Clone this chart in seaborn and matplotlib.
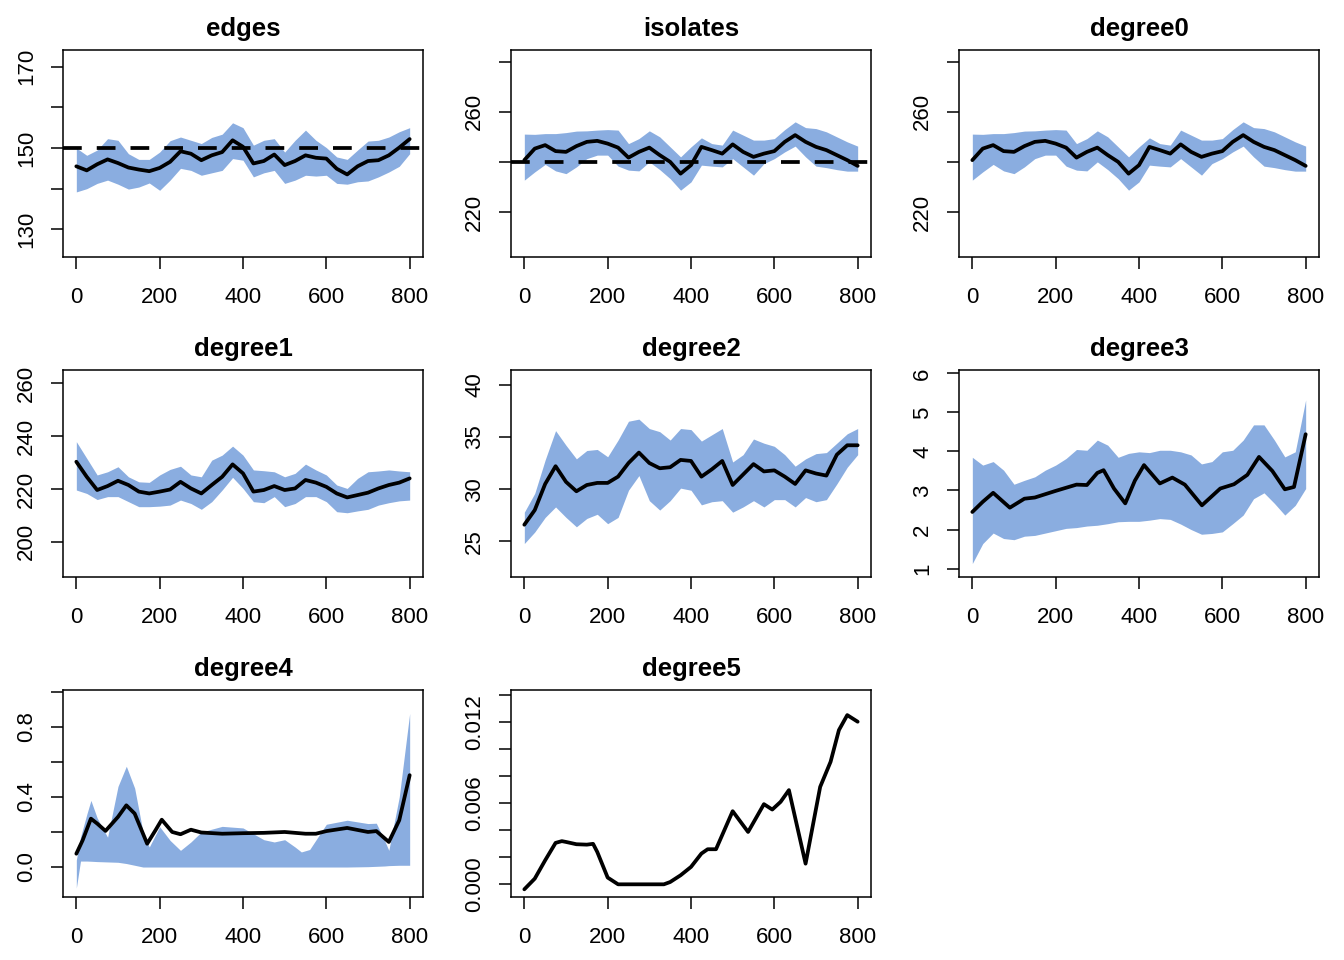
import matplotlib
matplotlib.use("Agg")
import matplotlib.pyplot as plt
import seaborn as sns

# common time grid for most panels
steps = [0, 25, 50, 75, 100, 125, 150, 175, 200, 225, 250, 275, 300, 325, 350, 375, 400,
         425, 450, 475, 500, 525, 550, 575, 600, 625, 650, 675, 700, 725, 750, 775, 800]

# edges
edges_mean = [145.5, 144.5, 146.0, 147.2, 146.3, 145.2, 144.7, 144.3, 145.1, 146.6, 149.2, 148.6, 147.0,
              148.2, 149.0, 151.9, 150.3, 146.2, 146.8, 148.4, 145.8, 146.8, 148.2, 147.6, 147.4, 144.9,
              143.5, 145.5, 146.8, 147.0, 148.2, 150.1, 152.2]
edges_hi = [150.0, 148.2, 149.5, 152.3, 151.9, 148.6, 147.2, 147.2, 149.0, 151.8, 152.7, 151.9, 151.1,
            152.6, 153.4, 156.2, 155.0, 150.7, 151.9, 152.3, 149.0, 151.9, 154.4, 151.9, 150.1, 147.8,
            147.2, 149.5, 151.7, 151.9, 152.7, 154.0, 155.0]
edges_lo = [139.2, 140.0, 141.3, 142.1, 141.1, 139.9, 140.4, 141.4, 139.6, 142.1, 145.0, 144.5, 143.3,
            143.9, 144.5, 147.4, 147.0, 142.9, 143.9, 144.5, 141.3, 142.1, 143.3, 143.1, 143.3, 141.3,
            141.1, 141.7, 141.9, 142.9, 144.1, 145.5, 148.6]
edges_target = 150

# isolates (degree0 shows the same series)
isolates_mean = [240.7, 245.3, 246.7, 244.3, 244.0, 246.3, 248.0, 248.4, 247.3, 245.7, 241.7, 244.0, 245.7,
                 242.7, 240.0, 235.3, 238.7, 246.0, 244.7, 243.3, 247.0, 244.0, 242.0, 243.3, 244.3, 248.0,
                 250.7, 248.0, 246.0, 244.7, 242.7, 240.7, 238.4]
isolates_hi = [251.1, 251.0, 251.3, 251.3, 251.7, 252.3, 252.4, 252.7, 252.9, 252.7, 247.3, 249.3, 252.4,
               250.0, 246.0, 242.0, 246.0, 249.6, 247.3, 246.7, 252.7, 250.7, 248.7, 248.7, 249.3, 252.9,
               256.0, 253.7, 253.3, 252.0, 250.0, 248.0, 246.3]
isolates_lo = [232.7, 236.0, 239.0, 236.4, 235.3, 238.0, 241.3, 242.7, 242.7, 238.3, 236.7, 236.4, 240.0,
               236.9, 233.3, 228.7, 232.0, 238.7, 238.3, 238.0, 241.3, 238.0, 234.7, 239.3, 241.3, 244.0,
               246.3, 242.0, 238.3, 237.7, 236.9, 236.3, 236.3]
isolates_target = 240

# degree1
degree1_mean = [230.3, 224.6, 219.6, 221.1, 223.1, 221.5, 219.0, 218.3, 219.0, 219.8, 222.7, 220.2, 218.3,
                221.5, 224.6, 229.3, 225.9, 219.0, 219.6, 221.1, 219.6, 220.2, 223.4, 222.4, 220.8, 218.3,
                216.8, 217.7, 218.6, 220.2, 221.5, 222.4, 224.0]
degree1_hi = [237.9, 231.6, 225.3, 226.5, 228.4, 224.6, 222.7, 222.5, 225.3, 227.4, 228.6, 225.3, 224.6,
              230.9, 232.8, 236.2, 232.8, 227.2, 226.9, 226.5, 224.6, 225.9, 229.4, 227.2, 225.3, 221.5,
              220.2, 224.0, 226.5, 226.8, 227.2, 226.8, 226.5]
degree1_lo = [219.6, 218.3, 216.0, 217.1, 217.1, 215.2, 213.3, 213.3, 213.5, 213.9, 215.8, 214.5, 212.3,
              215.2, 219.6, 224.4, 220.2, 215.2, 214.8, 217.1, 213.3, 214.5, 217.1, 217.1, 215.2, 211.4,
              211.0, 211.7, 212.3, 213.9, 214.8, 215.5, 215.8]

# degree2
degree2_mean = [26.6, 28.0, 30.5, 32.2, 30.7, 29.8, 30.4, 30.6, 30.6, 31.2, 32.5, 33.5, 32.5, 32.0, 32.1,
                32.8, 32.7, 31.2, 31.9, 32.7, 30.4, 31.4, 32.4, 31.7, 31.8, 31.2, 30.5, 31.8, 31.5, 31.3,
                33.3, 34.2, 34.2]
degree2_hi = [27.8, 29.6, 32.8, 35.6, 34.2, 32.9, 33.7, 33.8, 33.1, 34.7, 36.5, 36.7, 35.8, 35.5, 34.7,
              35.8, 35.7, 34.6, 35.2, 35.8, 32.6, 33.3, 34.8, 34.4, 34.1, 33.3, 32.2, 32.9, 33.4, 33.5,
              34.4, 35.3, 35.8]
degree2_lo = [24.8, 25.9, 27.3, 28.3, 27.3, 26.4, 27.2, 27.6, 26.7, 27.3, 29.9, 31.3, 28.9, 28.0, 28.9,
              30.1, 29.9, 28.5, 28.8, 28.9, 27.8, 28.3, 28.9, 28.3, 29.0, 29.0, 28.3, 29.2, 28.8, 29.0,
              30.5, 32.1, 33.3]

# degree3
degree3_x = [0, 25, 50, 90, 125, 150, 200, 250, 275, 300, 315, 340, 367, 390, 412, 450, 480, 510, 551,
             595, 628, 660, 688, 720, 750, 772, 800]
degree3_mean = [2.45, 2.71, 2.94, 2.56, 2.79, 2.82, 2.99, 3.15, 3.14, 3.45, 3.52, 3.05, 2.67, 3.25, 3.65,
                3.18, 3.33, 3.15, 2.62, 3.05, 3.16, 3.40, 3.86, 3.50, 3.03, 3.09, 4.44]
degree3_hi = [3.85, 3.65, 3.74, 3.52, 3.16, 3.26, 3.35, 3.52, 3.65, 3.82, 4.05, 4.03, 4.29, 4.16, 3.85,
              3.95, 3.99, 3.97, 4.03, 4.03, 3.99, 3.91, 3.68, 3.74, 3.99, 4.03, 4.29, 4.68, 4.68, 4.29,
              3.86, 3.99, 5.32]
degree3_lo = [1.13, 1.64, 1.91, 1.77, 1.74, 1.83, 1.85, 1.91, 1.97, 2.03, 2.05, 2.09, 2.11, 2.15, 2.20,
              2.21, 2.21, 2.24, 2.28, 2.26, 2.14, 2.00, 1.88, 1.90, 1.94, 2.15, 2.37, 2.79, 2.94, 2.67,
              2.37, 2.62, 3.05]

# degree4
degree4_x = [0, 15, 35, 50, 70, 100, 120, 140, 170, 190, 205, 230, 250, 275, 300, 350, 400, 450, 500,
             550, 575, 600, 650, 700, 720, 750, 775, 800]
degree4_mean = [0.076, 0.152, 0.276, 0.248, 0.206, 0.286, 0.352, 0.305, 0.133, 0.21, 0.27, 0.20, 0.187,
                0.213, 0.197, 0.19, 0.193, 0.195, 0.20, 0.19, 0.19, 0.205, 0.223, 0.20, 0.205, 0.143,
                0.267, 0.524]
degree4_bx = [0, 10, 25, 35, 50, 75, 100, 120, 140, 160, 175, 200, 225, 250, 275, 300, 350, 400, 450,
              475, 500, 525, 540, 560, 600, 650, 700, 720, 740, 750, 775, 800]
degree4_hi = [0.04, 0.17, 0.30, 0.38, 0.28, 0.17, 0.46, 0.575, 0.45, 0.20, 0.114, 0.23, 0.152, 0.095,
              0.143, 0.20, 0.232, 0.223, 0.156, 0.143, 0.156, 0.114, 0.086, 0.10, 0.244, 0.267, 0.248,
              0.25, 0.15, 0.095, 0.40, 0.876]
degree4_lo = [-0.12, 0.034, 0.034, 0.033, 0.031, 0.029, 0.027, 0.02, 0.01, 0.0, 0.0, 0.0, 0.0, 0.0, 0.0,
              0.0, 0.0, 0.0, 0.0, 0.0, 0.0, 0.0, 0.0, 0.0, 0.0, 0.0, 0.002, 0.004, 0.006, 0.008, 0.01,
              0.01]

# degree5 (no visible band)
degree5_x = [0, 25, 50, 75, 90, 100, 125, 150, 165, 175, 200, 225, 250, 335, 350, 375, 400, 425, 440,
             460, 500, 537, 575, 595, 615, 635, 675, 710, 735, 755, 775, 800]
degree5_mean = [-0.00037, 0.00042, 0.00178, 0.00307, 0.0032, 0.00314, 0.00297, 0.00294, 0.003, 0.0024,
                0.0005, 0.0, 0.0, 0.0, 0.00017, 0.00067, 0.00129, 0.00228, 0.0026, 0.0026, 0.00542,
                0.00388, 0.00594, 0.00554, 0.00611, 0.00698, 0.00153, 0.00722, 0.00908, 0.01143,
                0.01254, 0.01205]

band_col = "#8AADE0"

sns.set_theme(style="ticks")
plt.rcParams["font.family"] = ["Liberation Sans", "DejaVu Sans"]
plt.rcParams["text.color"] = "black"
plt.rcParams["xtick.color"] = "black"
plt.rcParams["ytick.color"] = "black"
plt.rcParams["axes.edgecolor"] = "black"

panels = [
    dict(name="edges", bx=steps, lo=edges_lo, hi=edges_hi, lx=steps, mean=edges_mean,
         target=edges_target, ylim=(123.2, 174.1), yt=[130, 140, 150, 160, 170],
         yl=["130", "", "150", "", "170"]),
    dict(name="isolates", bx=steps, lo=isolates_lo, hi=isolates_hi, lx=steps, mean=isolates_mean,
         target=isolates_target, ylim=(202, 284.7), yt=[220, 240, 260, 280],
         yl=["220", "", "260", ""]),
    dict(name="degree0", bx=steps, lo=isolates_lo, hi=isolates_hi, lx=steps, mean=isolates_mean,
         target=None, ylim=(202, 284.7), yt=[220, 240, 260, 280], yl=["220", "", "260", ""]),
    dict(name="degree1", bx=steps, lo=degree1_lo, hi=degree1_hi, lx=steps, mean=degree1_mean,
         target=None, ylim=(186.7, 265), yt=[200, 220, 240, 260], yl=["200", "220", "240", "260"]),
    dict(name="degree2", bx=steps, lo=degree2_lo, hi=degree2_hi, lx=steps, mean=degree2_mean,
         target=None, ylim=(21.6, 41.4), yt=[25, 30, 35, 40], yl=["25", "30", "35", "40"]),
    dict(name="degree3", bx=steps, lo=degree3_lo, hi=degree3_hi, lx=degree3_x, mean=degree3_mean,
         target=None, ylim=(0.785, 6.085), yt=[1, 2, 3, 4, 5, 6], yl=["1", "2", "3", "4", "5", "6"]),
    dict(name="degree4", bx=degree4_bx, lo=degree4_lo, hi=degree4_hi, lx=degree4_x, mean=degree4_mean,
         target=None, ylim=(-0.171, 1.01), yt=[0, 0.2, 0.4, 0.6, 0.8, 1.0],
         yl=["0.0", "", "0.4", "", "0.8", ""]),
    dict(name="degree5", bx=None, lo=None, hi=None, lx=degree5_x, mean=degree5_mean,
         target=None, ylim=(-0.00094, 0.0144),
         yt=[0, 0.002, 0.004, 0.006, 0.008, 0.010, 0.012, 0.014],
         yl=["0.000", "", "", "0.006", "", "", "0.012", ""]),
]

W, H = 1344, 960
lefts = [63, 511, 959]
tops = [50, 370, 690]
pw, ph = 360, 207

fig = plt.figure(figsize=(13.44, 9.6), dpi=100)

for i, p in enumerate(panels):
    r, c = divmod(i, 3)
    ax = fig.add_axes([lefts[c] / W, 1 - (tops[r] + ph) / H, pw / W, ph / H])
    if p["bx"] is not None:
        ax.fill_between(p["bx"], p["lo"], p["hi"], color=band_col, lw=0)
    sns.lineplot(x=p["lx"], y=p["mean"], ax=ax, color="black", lw=2.7,
                 estimator=None, sort=False)
    if p["target"] is not None:
        ax.axhline(p["target"], color="black", lw=2.7, ls=(0, (5, 4)))
    ax.set_xlim(-32, 832)
    ax.set_xticks([0, 200, 400, 600, 800])
    ax.set_xticklabels(["0", "200", "400", "600", "800"])
    ax.set_ylim(*p["ylim"])
    ax.set_yticks(p["yt"])
    ax.set_yticklabels(p["yl"], rotation=90, va="center")
    ax.tick_params(axis="both", length=8.5, width=1.1, labelsize=16, color="black")
    ax.tick_params(axis="x", pad=13)
    ax.tick_params(axis="y", pad=10)
    for s in ax.spines.values():
        s.set_linewidth(1.1)
        s.set_color("black")
    ax.set_xlabel("")
    ax.set_ylabel("")
    ax.set_title(p["name"], fontsize=18.5, fontweight="bold", pad=10)

fig.savefig("out.png", dpi=100)
